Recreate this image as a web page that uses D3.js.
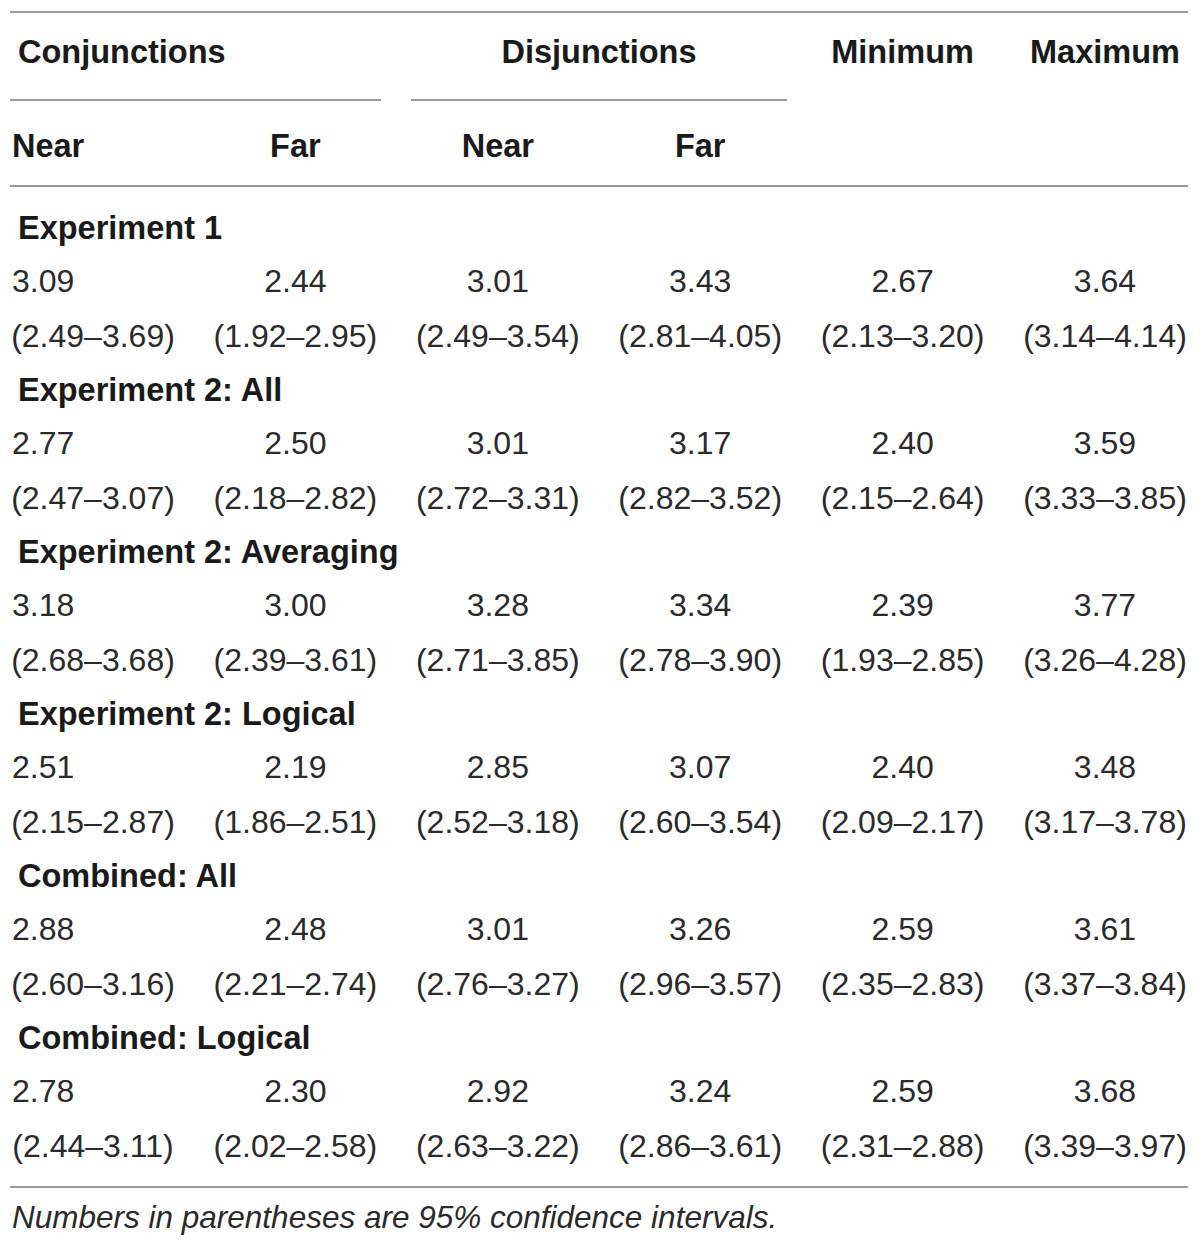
<!DOCTYPE html>
<html lang="en">
<head>
<meta charset="UTF-8">
<title>Conjunctions / disjunctions table</title>
<style>
  body { margin: 0; background: #fff; }
  svg text { font-family: "Liberation Sans", Arial, Helvetica, sans-serif; fill: #1a1a1a; }
  .head { font-weight: bold; font-size: 32.5px; }
  .val { font-size: 32px; fill: #2a2a2a; }
  .note { font-size: 31.5px; font-style: italic; fill: #2a2a2a; }
</style>
</head>
<body>
<div id="chart"></div>
<script src="https://d3js.org/d3.v7.min.js"></script>
<script>
var columns = ["cNear", "cFar", "dNear", "dFar", "min", "max"];
var topHeaders = [
  { label: "Conjunctions", from: "cNear", to: "cFar", anchor: "start" },
  { label: "Disjunctions", from: "dNear", to: "dFar", anchor: "middle" },
  { label: "Minimum", from: "min", to: "min", anchor: "middle" },
  { label: "Maximum", from: "max", to: "max", anchor: "middle" }
];
var subHeaders = ["Near", "Far", "Near", "Far", "", ""];
var groups = [
  "Experiment 1",
  "Experiment 2: All",
  "Experiment 2: Averaging",
  "Experiment 2: Logical",
  "Combined: All",
  "Combined: Logical"
];
var means = [
  ["3.09", "2.44", "3.01", "3.43", "2.67", "3.64"],
  ["2.77", "2.50", "3.01", "3.17", "2.40", "3.59"],
  ["3.18", "3.00", "3.28", "3.34", "2.39", "3.77"],
  ["2.51", "2.19", "2.85", "3.07", "2.40", "3.48"],
  ["2.88", "2.48", "3.01", "3.26", "2.59", "3.61"],
  ["2.78", "2.30", "2.92", "3.24", "2.59", "3.68"]
];
var intervals = [
  ["(2.49–3.69)", "(1.92–2.95)", "(2.49–3.54)", "(2.81–4.05)", "(2.13–3.20)", "(3.14–4.14)"],
  ["(2.47–3.07)", "(2.18–2.82)", "(2.72–3.31)", "(2.82–3.52)", "(2.15–2.64)", "(3.33–3.85)"],
  ["(2.68–3.68)", "(2.39–3.61)", "(2.71–3.85)", "(2.78–3.90)", "(1.93–2.85)", "(3.26–4.28)"],
  ["(2.15–2.87)", "(1.86–2.51)", "(2.52–3.18)", "(2.60–3.54)", "(2.09–2.17)", "(3.17–3.78)"],
  ["(2.60–3.16)", "(2.21–2.74)", "(2.76–3.27)", "(2.96–3.57)", "(2.35–2.83)", "(3.37–3.84)"],
  ["(2.44–3.11)", "(2.02–2.58)", "(2.63–3.22)", "(2.86–3.61)", "(2.31–2.88)", "(3.39–3.97)"]
];
var footnote = "Numbers in parentheses are 95% confidence intervals.";

var width = 1200, height = 1249;
var left = 10, right = 1188, textLeft = 12;

var svg = d3.select("#chart").append("svg")
  .attr("width", width)
  .attr("height", height);

// column centres
var x = d3.scalePoint().domain(columns).range([93, 1105]);
// group base rows
var y = d3.scaleLinear().domain([0, groups.length - 1]).range([239, 1049]);

function colX(c) { return c === "cNear" ? textLeft : x(c); }
function colAnchor(c) { return c === "cNear" ? "start" : "middle"; }

function rule(y0, x0, x1) {
  svg.append("line")
    .attr("x1", x0).attr("x2", x1)
    .attr("y1", y0).attr("y2", y0)
    .attr("stroke", "#9a9a9a")
    .attr("stroke-width", 2);
}

rule(12, left, right);
rule(100, left, 381);
rule(100, 411, 787);
rule(186, left, right);
rule(1187, left, right);

// header row 1
svg.selectAll("text.top").data(topHeaders).enter().append("text")
  .attr("class", "head top")
  .attr("x", function(d) {
    if (d.anchor === "start") return 18;
    return (x(d.from) + x(d.to)) / 2;
  })
  .attr("y", 63)
  .attr("text-anchor", function(d) { return d.anchor; })
  .text(function(d) { return d.label; });

// header row 2
svg.selectAll("text.sub").data(columns).enter().append("text")
  .attr("class", "head sub")
  .attr("x", colX)
  .attr("y", 157)
  .attr("text-anchor", colAnchor)
  .text(function(d, i) { return subHeaders[i]; });

// body
groups.forEach(function(g, gi) {
  svg.append("text")
    .attr("class", "head")
    .attr("x", 18)
    .attr("y", y(gi))
    .text(g);

  svg.selectAll("text.m" + gi).data(columns).enter().append("text")
    .attr("class", "val m" + gi)
    .attr("x", colX)
    .attr("y", y(gi) + 53)
    .attr("text-anchor", colAnchor)
    .text(function(d, i) { return means[gi][i]; });

  svg.selectAll("text.ci" + gi).data(columns).enter().append("text")
    .attr("class", "val ci" + gi)
    .attr("x", x)
    .attr("y", y(gi) + 108)
    .attr("text-anchor", "middle")
    .text(function(d, i) { return intervals[gi][i]; });
});

svg.append("text")
  .attr("class", "note")
  .attr("x", textLeft)
  .attr("y", 1228)
  .text(footnote);
</script>
</body>
</html>
